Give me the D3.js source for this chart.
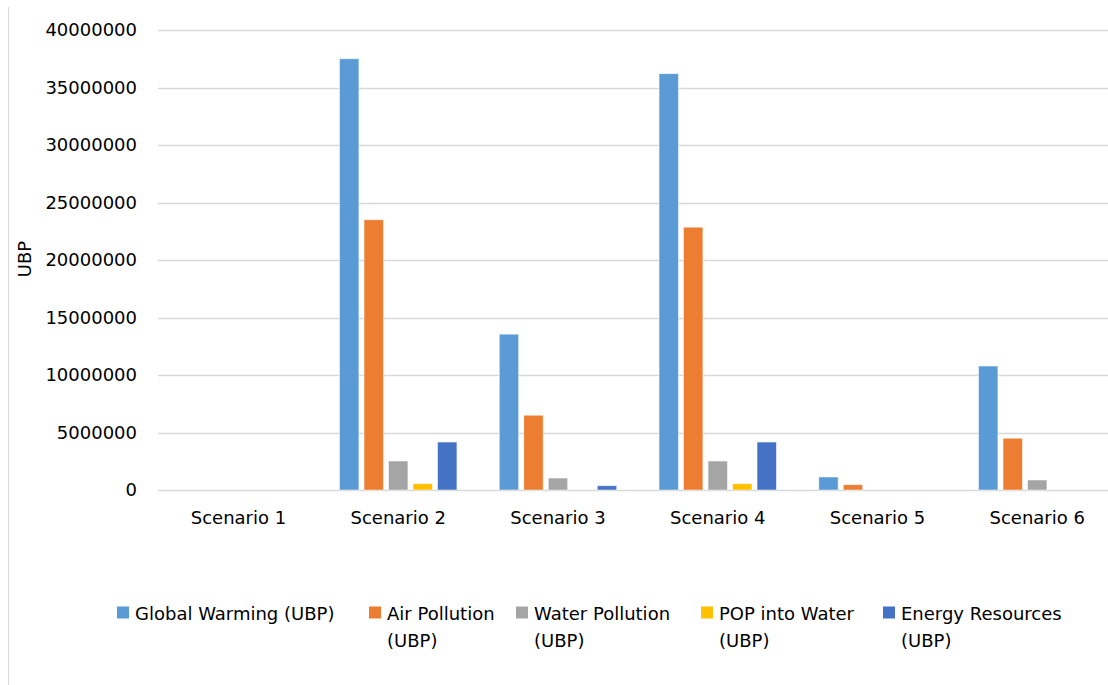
<!DOCTYPE html>
<html>
<head>
<meta charset="utf-8">
<script src="https://cdn.jsdelivr.net/npm/d3@7"></script>
<style>
  html, body { margin: 0; padding: 0; background: #ffffff; }
  svg { display: block; font-family: "DejaVu Sans", sans-serif; }
</style>
</head>
<body>
<svg id="chart" width="1108" height="685"></svg>
<script>
// ---- data ----
const categories = ["Scenario 1", "Scenario 2", "Scenario 3", "Scenario 4", "Scenario 5", "Scenario 6"];
const seriesNames = ["Global Warming (UBP)", "Air Pollution (UBP)", "Water Pollution (UBP)", "POP into Water (UBP)", "Energy Resources (UBP)"];
const globalWarming  = [0, 37500000, 13550000, 36200000, 1130000, 10780000];
const airPollution   = [0, 23500000, 6500000, 22850000, 460000, 4500000];
const waterPollution = [0, 2520000, 1040000, 2520000, 0, 870000];
const popIntoWater   = [0, 550000, 0, 550000, 0, 0];
const energyResources= [0, 4170000, 370000, 4170000, 0, 0];
const yTicks = [0, 5000000, 10000000, 15000000, 20000000, 25000000, 30000000, 35000000, 40000000];
const colors = ["#5B9BD5", "#ED7D31", "#A5A5A5", "#FFC000", "#4472C4"];

const seriesValues = [globalWarming, airPollution, waterPollution, popIntoWater, energyResources];
const table = categories.map((c, i) => {
  const row = { category: c };
  seriesNames.forEach((s, j) => row[s] = seriesValues[j][i]);
  return row;
});

// ---- layout ----
const svg = d3.select("#chart");
const plotTop = 30, plotBottom = 490;
const legendSlots = [117, 369, 516, 701, 883]; // legend item left edges (layout)
const x0 = d3.scaleBand().domain(categories).range([158.6, 1117.1]).paddingInner(0).paddingOuter(0);
const x1 = d3.scaleBand().domain(seriesNames).range([0, x0.bandwidth()]).paddingInner(0.21).paddingOuter(0.865);
const y = d3.scaleLinear().domain([0, 40000000]).range([plotBottom, plotTop]);

// chart border (left edge visible)
svg.append("line").attr("x1", 8.5).attr("x2", 8.5).attr("y1", 7).attr("y2", 685)
  .attr("stroke", "#d9d9d9").attr("stroke-width", 1);

// gridlines
svg.append("g").selectAll("line").data(yTicks).join("line")
  .attr("x1", 158).attr("x2", 1117)
  .attr("y1", d => Math.round(y(d)) + 0.5).attr("y2", d => Math.round(y(d)) + 0.5)
  .attr("stroke", "#d9d9d9").attr("stroke-width", 1.3);

// y axis labels
const yAxis = d3.axisLeft(y).tickValues(yTicks).tickFormat(d3.format("d")).tickSize(0).tickPadding(0);
const yg = svg.append("g").attr("transform", "translate(137,0)").call(yAxis);
yg.select(".domain").remove();
yg.selectAll("text").attr("font-size", 18).attr("fill", "#000").attr("font-family", "DejaVu Sans, sans-serif");

// x axis labels
const xAxis = d3.axisBottom(x0).tickSize(0).tickPadding(0);
const xg = svg.append("g").attr("transform", "translate(0,511)").call(xAxis);
xg.select(".domain").remove();
xg.selectAll("text").attr("font-size", 18).attr("fill", "#000").attr("font-family", "DejaVu Sans, sans-serif");

// y axis title
svg.append("text").attr("transform", "translate(31,259) rotate(-90)")
  .attr("text-anchor", "middle").attr("font-size", 18).attr("fill", "#000").text("UBP");

// bars
const groups = svg.append("g").selectAll("g").data(table).join("g")
  .attr("transform", d => `translate(${x0(d.category)},0)`);
groups.selectAll("rect")
  .data(d => seriesNames.map((s, j) => ({ key: s, value: d[s], j })))
  .join("rect")
  .filter(d => d.value > 0)
  .attr("x", d => x1(d.key))
  .attr("width", x1.bandwidth())
  .attr("y", d => y(d.value))
  .attr("height", d => plotBottom - y(d.value))
  .attr("fill", d => colors[d.j])
  .attr("stroke", "#ffffff").attr("stroke-width", 0.8).attr("stroke-opacity", 0.6);

// legend
const legend = svg.append("g");
seriesNames.forEach((name, j) => {
  const lx = legendSlots[j];
  const lines = j === 0 ? [name] : [name.replace(" (UBP)", ""), "(UBP)"];
  const g = legend.append("g");
  g.append("rect").attr("x", lx).attr("y", 606.5).attr("width", 12).attr("height", 12).attr("fill", colors[j]);
  const t = g.append("text").attr("x", lx + 18).attr("y", 619.5).attr("font-size", 18).attr("fill", "#000");
  lines.forEach((ln, k) => t.append("tspan").attr("x", lx + 18).attr("dy", k === 0 ? 0 : 27.5).text(ln));
});
</script>
</body>
</html>
